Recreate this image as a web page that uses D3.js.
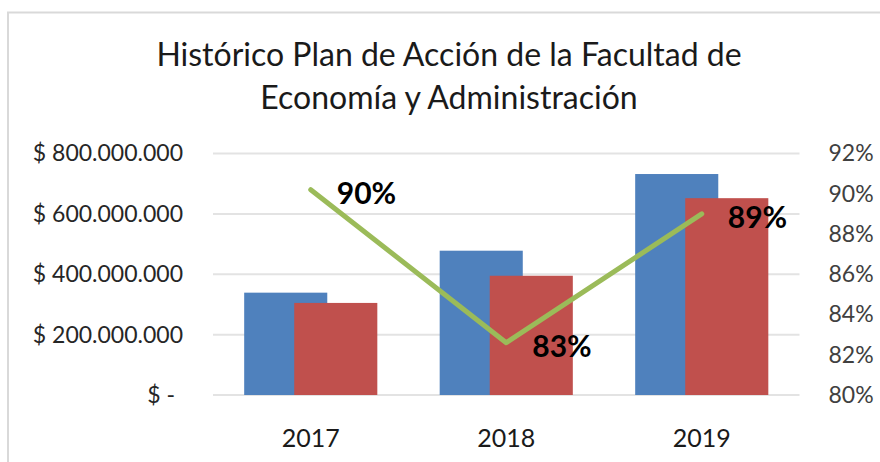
<!DOCTYPE html>
<html>
<head>
<meta charset="utf-8">
<script src="https://cdn.jsdelivr.net/npm/d3@7"></script>
<style>
  body { margin: 0; background: #fff; }
  text { font-family: Lato, "Open Sans", sans-serif; }
</style>
</head>
<body>
<div id="chart"></div>
<script>
// chart data
var years = ["2017", "2018", "2019"];
var presupuesto = [339000000, 478000000, 732000000];   // blue bars
var ejecutado = [305000000, 395000000, 652000000];     // red bars
var cumplimiento = [0.902, 0.826, 0.890];              // green line (right axis)
var moneyTicks = [0, 200000000, 400000000, 600000000, 800000000];
var pctTicks = [0.80, 0.82, 0.84, 0.86, 0.88, 0.90, 0.92];
var titleLines = ["Histórico Plan de Acción de la Facultad de", "Economía y Administración"];

var width = 880, height = 462;
var plot = { left: 213, right: 799.5, top: 153.5, bottom: 395 };

// create an svg element
var svg = d3.select("#chart")
            .append("svg")
            .attr("width", width)
            .attr("height", height);

// chart area border
svg.append("rect")
   .attr("x", 8)
   .attr("y", 12.5)
   .attr("width", 900)
   .attr("height", 500)
   .style("fill", "#fff")
   .style("stroke", "#d9d9d9")
   .style("stroke-width", 2);

// scales
var x = d3.scaleBand()
          .domain(years)
          .range([plot.left, plot.right])
          .paddingInner(0)
          .paddingOuter(0);

var y = d3.scaleLinear()
          .domain([0, 800000000])
          .range([plot.bottom, plot.top]);

var y2 = d3.scaleLinear()
           .domain([0.80, 0.92])
           .range([plot.bottom, plot.top]);

// title
svg.append("g")
   .attr("class", "title")
   .selectAll("text")
   .data(titleLines)
   .enter()
   .append("text")
   .attr("x", 449)
   .attr("y", function(d, i) { return 66 + i * 43; })
   .attr("text-anchor", "middle")
   .style("font-size", "32px")
   .style("fill", "#1a1a1a")
   .text(function(d) { return d; });

// gridlines
svg.append("g")
   .attr("class", "grid")
   .selectAll("line")
   .data(moneyTicks)
   .enter()
   .append("line")
   .attr("x1", plot.left)
   .attr("x2", plot.right)
   .attr("y1", function(d) { return y(d); })
   .attr("y2", function(d) { return y(d); })
   .style("stroke", "#e3e3e3")
   .style("stroke-width", 2);

// left axis, accounting style labels
var fmtMoney = function(d) {
  if (d === 0) return "$ -";
  return "$ " + d3.format(",")(d).replace(/,/g, ".");
};

var leftAxis = svg.append("g")
   .attr("transform", "translate(" + plot.left + ",0)")
   .call(d3.axisLeft(y).tickValues(moneyTicks).tickFormat(fmtMoney).tickSize(0).tickPadding(30));

leftAxis.select(".domain").remove();
leftAxis.selectAll("text")
   .attr("dx", function(d) { return d === 0 ? -8 : 0; })
   .style("font-size", "23px")
   .style("font-family", "Lato, sans-serif")
   .style("fill", "#262626");

// right axis
var rightAxis = svg.append("g")
   .attr("transform", "translate(" + plot.right + ",0)")
   .call(d3.axisRight(y2).tickValues(pctTicks).tickFormat(d3.format(".0%")).tickSize(0).tickPadding(29));

rightAxis.select(".domain").remove();
rightAxis.selectAll("text")
   .style("font-size", "23px")
   .style("font-family", "Lato, sans-serif")
   .style("fill", "#404040");

// bottom axis
var bottomAxis = svg.append("g")
   .attr("transform", "translate(0," + plot.bottom + ")")
   .call(d3.axisBottom(x).tickSize(0).tickPadding(34));

bottomAxis.select(".domain").remove();
bottomAxis.selectAll("text")
   .style("font-size", "25px")
   .style("font-family", "Lato, sans-serif")
   .style("fill", "#1a1a1a");

// bars: two overlapping series per year
var barW = x.bandwidth() * 0.425;
var shift = x.bandwidth() * 0.128;

svg.append("g")
   .attr("class", "bars-blue")
   .selectAll("rect")
   .data(presupuesto)
   .enter()
   .append("rect")
   .attr("x", function(d, i) { return x(years[i]) + x.bandwidth() / 2 - shift - barW / 2; })
   .attr("y", function(d) { return y(d); })
   .attr("width", barW)
   .attr("height", function(d) { return y(0) - y(d); })
   .style("fill", "#4f81bd");

svg.append("g")
   .attr("class", "bars-red")
   .selectAll("rect")
   .data(ejecutado)
   .enter()
   .append("rect")
   .attr("x", function(d, i) { return x(years[i]) + x.bandwidth() / 2 + shift - barW / 2; })
   .attr("y", function(d) { return y(d); })
   .attr("width", barW)
   .attr("height", function(d) { return y(0) - y(d); })
   .style("fill", "#c0504d");

// line on the right axis
var line = d3.line()
             .x(function(d, i) { return x(years[i]) + x.bandwidth() / 2; })
             .y(function(d) { return y2(d); });

svg.append("path")
   .datum(cumplimiento)
   .attr("d", line)
   .style("fill", "none")
   .style("stroke", "#9bbb59")
   .style("stroke-width", 5)
   .style("stroke-linejoin", "round")
   .style("stroke-linecap", "round");

// data labels
svg.append("g")
   .attr("class", "labels")
   .selectAll("text")
   .data(cumplimiento)
   .enter()
   .append("text")
   .attr("x", function(d, i) { return x(years[i]) + x.bandwidth() / 2 + 26; })
   .attr("y", function(d) { return y2(d) + 4; })
   .attr("dy", "0.35em")
   .style("font-size", "30px")
   .style("font-weight", "bold")
   .style("fill", "#000")
   .text(function(d) { return d3.format(".0%")(d); });
</script>
</body>
</html>
